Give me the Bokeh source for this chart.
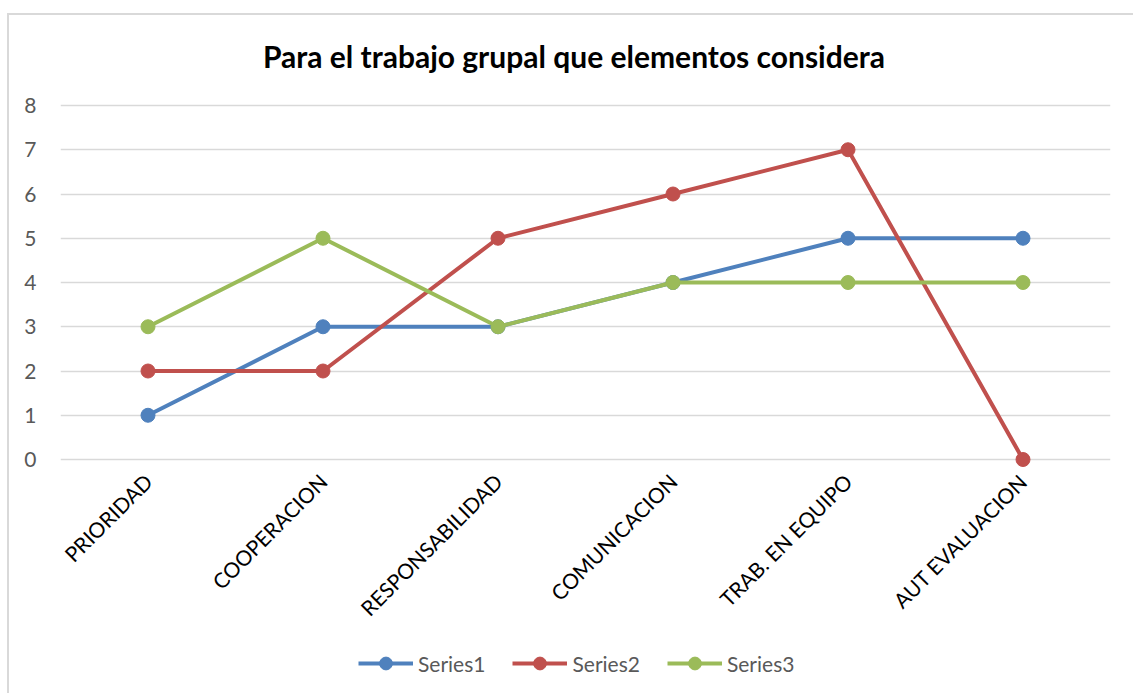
from bokeh.plotting import figure
from bokeh.models import (FactorRange, Range1d, FixedTicker, Legend, LegendItem, Label)
from bokeh.embed import file_html
from bokeh.resources import INLINE
import math

categories = ["PRIORIDAD", "COOPERACION", "RESPONSABILIDAD", "COMUNICACION",
              "TRAB. EN EQUIPO", "AUT EVALUACION"]
series1 = [1, 3, 3, 4, 5, 5]
series2 = [2, 2, 5, 6, 7, 0]
series3 = [3, 5, 3, 4, 4, 4]
series_names = ["Series1", "Series2", "Series3"]
series_colors = ["#4F81BD", "#C0504D", "#9BBB59"]
y_ticks = [0, 1, 2, 3, 4, 5, 6, 7, 8]
title_text = "Para el trabajo grupal que elementos considera"

FONT = "Lato"

p = figure(x_range=FactorRange(*categories, range_padding=0, factor_padding=0),
           y_range=Range1d(-5.107, 10.034),
           width=1126, height=680, title=None,
           output_backend="svg", toolbar_location=None,
           min_border_left=51, min_border_right=25,
           min_border_top=0, min_border_bottom=10)
p.styles = {"border-top": "2px solid #d9d9d9", "border-left": "2px solid #d9d9d9",
            "margin-top": "13px", "margin-left": "7px"}
p.outline_line_color = None
p.background_fill_color = "white"
p.border_fill_color = "white"

# chart title, centred a little left of the plot centre as in the original
p.add_layout(Label(x=2.934, y=9.13, text=title_text, text_align="center",
                   text_baseline="middle", text_font=FONT, text_font_size="30px",
                   text_font_style="bold", text_color="#000000"))

p.xgrid.grid_line_color = None
p.ygrid.grid_line_color = "#d9d9d9"
p.ygrid.grid_line_width = 1.5

p.yaxis.ticker = FixedTicker(ticks=y_ticks)
for ax in (p.xaxis, p.yaxis):
    ax.axis_line_color = None
    ax.major_tick_line_color = None
    ax.minor_tick_line_color = None
    ax.major_tick_out = 0
    ax.major_tick_in = 0
    ax.major_label_text_font = FONT
p.yaxis.major_label_text_font_size = "21px"
p.yaxis.major_label_text_color = "#595959"
p.yaxis.major_label_standoff = 24
p.xaxis.fixed_location = 0
p.xaxis.major_label_text_font_size = "21px"
p.xaxis.major_label_text_color = "#000000"
p.xaxis.major_label_orientation = math.pi / 4
p.xaxis.major_label_standoff = 18

items = []
for name, vals, col in zip(series_names, [series1, series2, series3], series_colors):
    ln = p.line(categories, vals, line_color=col, line_width=4)
    sc = p.scatter(categories, vals, size=14, fill_color=col, line_color=col)
    items.append(LegendItem(label=name, renderers=[ln, sc]))

legend = Legend(items=items, orientation="horizontal", location=(298, 6),
                glyph_width=55, glyph_height=32, label_standoff=5, spacing=27,
                padding=0, margin=0, border_line_color=None,
                background_fill_alpha=0,
                label_text_font=FONT, label_text_font_size="21px",
                label_text_color="#595959")
p.add_layout(legend, "center")

open("out.html", "w").write(file_html(p, INLINE))
